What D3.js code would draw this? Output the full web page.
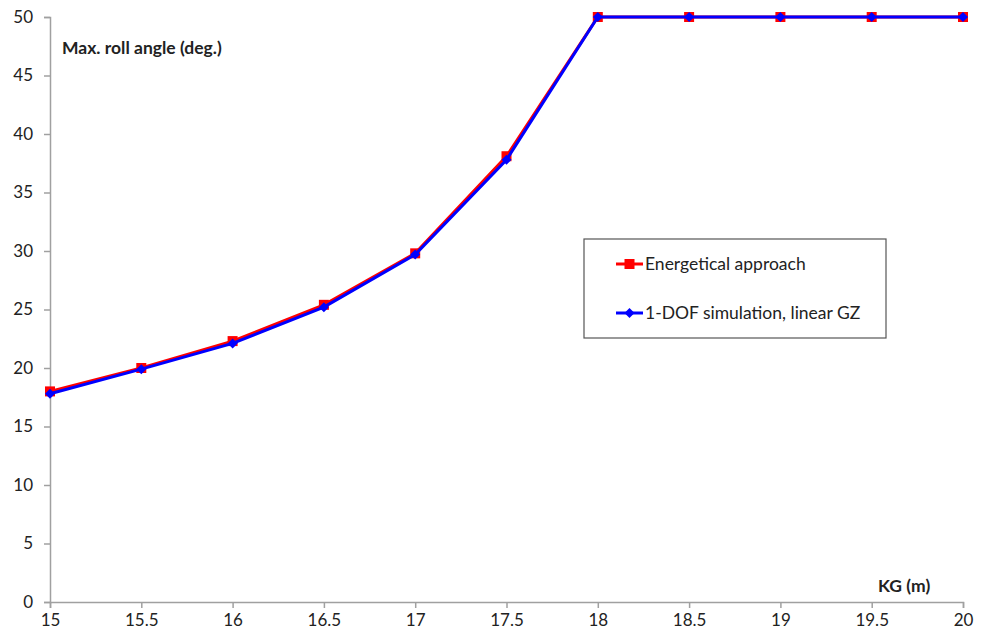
<!DOCTYPE html>
<html>
<head>
<meta charset="utf-8">
<script src="https://cdn.jsdelivr.net/npm/d3@7"></script>
<style>
body { margin: 0; background: #fff; }
text { font-family: Lato, "Open Sans", sans-serif; fill: #222; }
</style>
</head>
<body>
<svg id="chart" width="997" height="636"></svg>
<script>
// data
var kg_values = [15, 15.5, 16, 16.5, 17, 17.5, 18, 18.5, 19, 19.5, 20];
var energetical = [18.0, 20.0, 22.3, 25.4, 29.8, 38.1, 50, 50, 50, 50, 50];
var one_dof = [17.8, 19.9, 22.1, 25.2, 29.7, 37.8, 50, 50, 50, 50, 50];
var x_ticks = [15, 15.5, 16, 16.5, 17, 17.5, 18, 18.5, 19, 19.5, 20];
var y_ticks = [0, 5, 10, 15, 20, 25, 30, 35, 40, 45, 50];
var series_names = ["Energetical approach", "1-DOF simulation, linear GZ"];

const RED = '#ff0000';
const BLUE = '#0000ff';
const AXIS_COLOR = '#a0a0a0';
const FONT = 'Lato, "Open Sans", sans-serif';

var svg = d3.select("#chart");

var x = d3.scaleLinear().domain([15, 20]).range([50, 963]);
var y = d3.scaleLinear().domain([0, 50]).range([602, 17]);

// axes
var x_axis = svg.append("g")
    .attr("transform", "translate(0," + y(0) + ")")
    .call(d3.axisBottom(x).tickValues(x_ticks).tickSize(6).tickFormat(d3.format("")));
var y_axis = svg.append("g")
    .attr("transform", "translate(" + x(15) + ",0)")
    .call(d3.axisLeft(y).tickValues(y_ticks).tickSize(6));

[x_axis, y_axis].forEach(function(a){
    a.select(".domain").attr("stroke", AXIS_COLOR).attr("stroke-width", 1.5);
    a.selectAll(".tick line").attr("stroke", AXIS_COLOR).attr("stroke-width", 1.5);
    a.selectAll(".tick text")
        .style("font-family", FONT)
        .style("font-size", "17px")
        .attr("fill", "#222");
});
x_axis.selectAll(".tick text").attr("dy", "0.6em").attr("y", 14);
y_axis.selectAll(".tick text").attr("x", -17);

// axis titles
svg.append("text")
    .attr("x", 62).attr("y", 54)
    .style("font-size", "17.5px").style("font-weight", "bold")
    .text("Max. roll angle (deg.)");
svg.append("text")
    .attr("x", 878).attr("y", 592)
    .style("font-size", "17.5px").style("font-weight", "bold")
    .text("KG (m)");

// lines
var line_gen = function(vals){
    return d3.line()
        .x(function(d, i){ return x(kg_values[i]); })
        .y(function(d){ return y(d); })(vals);
};

svg.append("path")
    .attr("d", line_gen(energetical))
    .attr("fill", "none").attr("stroke", RED).attr("stroke-width", 3);

svg.append("g").selectAll("rect")
    .data(energetical)
    .enter().append("rect")
    .attr("x", function(d, i){ return x(kg_values[i]) - 5; })
    .attr("y", function(d){ return y(d) - 5; })
    .attr("width", 10).attr("height", 10)
    .attr("fill", RED);

svg.append("path")
    .attr("d", line_gen(one_dof))
    .attr("fill", "none").attr("stroke", BLUE).attr("stroke-width", 3);

// diamond slightly flatter than d3's default
var diamond = "M0,-5L5,0L0,5L-5,0Z";
svg.append("g").selectAll("path")
    .data(one_dof)
    .enter().append("path")
    .attr("d", diamond)
    .attr("transform", function(d, i){ return "translate(" + x(kg_values[i]) + "," + y(d) + ")"; })
    .attr("fill", BLUE);

// legend
var legend = svg.append("g");
legend.append("rect")
    .attr("x", 584).attr("y", 239)
    .attr("width", 302).attr("height", 99)
    .attr("fill", "#fff").attr("stroke", "#555").attr("stroke-width", 1.2);

var legend_rows = [
    {name: series_names[0], color: RED, y: 264, shape: "square"},
    {name: series_names[1], color: BLUE, y: 313, shape: "diamond"}
];
legend_rows.forEach(function(r){
    legend.append("line")
        .attr("x1", 616).attr("x2", 643)
        .attr("y1", r.y).attr("y2", r.y)
        .attr("stroke", r.color).attr("stroke-width", 3);
    if (r.shape === "square"){
        legend.append("rect")
            .attr("x", 624.5).attr("y", r.y - 5)
            .attr("width", 10).attr("height", 10)
            .attr("fill", r.color);
    } else {
        legend.append("path")
            .attr("d", diamond)
            .attr("transform", "translate(629.5," + r.y + ")")
            .attr("fill", r.color);
    }
    legend.append("text")
        .attr("x", 645).attr("y", r.y + 6)
        .style("font-size", "17.5px")
        .text(r.name);
});
</script>
</body>
</html>
